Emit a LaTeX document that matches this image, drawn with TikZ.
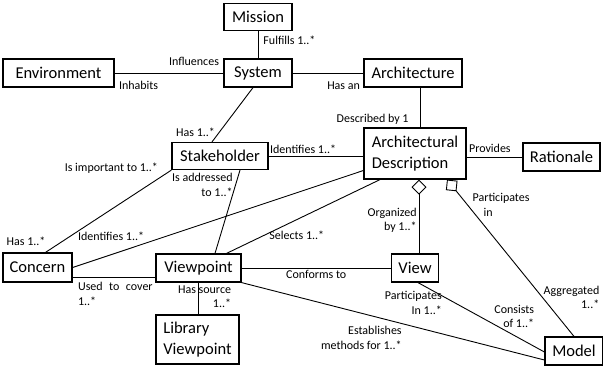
\documentclass[tikz,border=0pt]{standalone}
\usepackage{fontspec}
\setmainfont{Carlito}
\usetikzlibrary{positioning, arrows.meta}

\begin{document}
\begin{tikzpicture}[
  x=1pt, y=-1pt, line width=0.9pt,
  cls/.style={draw, line width=1.2pt, inner sep=2pt, align=left,
              font=\fontsize{16.5}{20.5}\selectfont},
  role/.style={draw=none, inner sep=1pt, font=\fontsize{12}{14.5}\selectfont},
  agg/.style={arrows={Diamond[open, length=15pt, width=15pt]}-}
]
  \useasboundingbox (0,0) rectangle (603,365);

  % --- nodes: \node (id) [style] at (pos) {label}; ---
  \node (mis)  [cls, minimum width=68pt,  minimum height=27pt] at (258,17)      {Mission};
  \node (env)  [cls, minimum width=111pt, minimum height=28pt] at (58.5,73)     {Environment};
  \node (sys)  [cls, minimum width=68pt,  minimum height=28pt] at (258,73)      {System};
  \node (arch) [cls, minimum width=98pt,  minimum height=28pt] at (413,73)      {Architecture};
  \node (stk)  [cls, minimum width=96pt,  minimum height=27pt] at (220,156)     {Stakeholder};
  \node (ad)   [cls, minimum width=102pt, minimum height=51pt] at (415,153.5)   {Architectural\\Description};
  \node (rat)  [cls, minimum width=77pt,  minimum height=28pt] at (561.5,157)   {Rationale};
  \node (con)  [cls, minimum width=69pt,  minimum height=29pt] at (37.5,267.5)  {Concern};
  \node (vp)   [cls, minimum width=85pt,  minimum height=28pt] at (198.5,268)   {Viewpoint};
  \node (view) [cls, minimum width=47pt,  minimum height=28pt] at (415,268)     {View};
  \node (lib)  [cls, minimum width=83pt,  minimum height=49pt] at (197.5,339.5) {Library\\Viewpoint};
  \node (mod)  [cls, minimum width=58pt,  minimum height=28pt] at (574,351)     {Model};

  % --- edges: \draw (from) -- node[...]{role} (to); ---
  \draw (mis) -- node (rFul) [role, pos=0.33, right=4pt] {Fulfills 1..*} (sys);
  \draw (env) -- node (rInh) [role, pos=0, below right=7pt and 3pt] {Inhabits}
                 node (rInf) [role, pos=1, above left=6pt and 3pt] {Influences} (sys);
  \draw (sys) -- node (rHan) [role, pos=1, below left=7pt and 2pt] {Has an} (arch);
  \draw ([xshift=7pt]arch.south) -- node (rDes) [role, pos=0.8, left=10pt] {Described by 1} ([xshift=5pt]ad.north);
  \draw ([xshift=-5pt]sys.south) -- node (rHsk) [role, pos=0.82, left=3pt] {Has 1..*} ([xshift=-8pt]stk.north);
  \draw (stk.east) -- node (rIds) [role, pos=0, above right=1pt and 0pt] {Identifies 1..*} (stk.east -| ad.west);
  \draw (rat.west -| ad.east) -- node (rPro) [role, pos=0, above right=3pt and 1pt] {Provides} (rat.west);

  \draw (stk.south west) -- node (rImp) [role, pos=0, left=12pt, yshift=2pt] {Is important to 1..*}
                            node (rHco) [role, pos=0.87, left=15pt] {Has 1..*} ([xshift=8pt]con.north);
  \draw ([xshift=20pt]stk.south) -- node (rAdd) [role, align=right, pos=0, below left=2pt and 6pt] {Is addressed\\to 1..*} ([xshift=16.5pt]vp.north);
  \draw ([yshift=-17pt]ad.west) -- node (rIdc) [role, pos=1, above right=25pt and 4pt] {Identifies 1..*} (con.east);
  \draw ([xshift=-35pt]ad.south) -- node (rSel) [role, pos=0.75, right=3pt] {Selects 1..*} ([xshift=28pt]vp.north);

  \draw[agg] ([xshift=4pt]ad.south) -- node (rOrg) [role, align=right, pos=0.55, left=1pt] {Organized\\by 1..*} ([xshift=4pt]view.north);
  \draw[agg] ([xshift=32pt]ad.south) -- node (rPar) [role, align=left, pos=0.08, below right=0pt and 14pt] {Participates\\\hspace*{11pt}in}
                                         node (rAgg) [role, align=right, pos=0.75, right=0pt] {Aggregated\\1..*} (mod.north);

  \draw ([yshift=-10pt]con.east) -- node (rUse) [role, align=left, pos=0, below right=3.5pt and 4pt] {Used\hspace{6.5pt}to\hspace{6.5pt}cover\\1..*} ([yshift=-9.5pt]vp.west);
  \draw (vp.east) -- node (rCfm) [role, pos=0.5, below=1pt] {Conforms to} (view.west);
  \draw (vp.south) -- node (rSrc) [role, align=right, pos=0.45, anchor=east, xshift=34pt] {Has source\\1..*} (vp.south |- lib.north);
  \draw (vp.south east) -- node (rEst) [role, align=right, pos=0.55, below left=0pt and 5pt] {Establishes\\methods for 1..*} ([yshift=-9pt]mod.west);
  \draw ([xshift=3pt]view.south) -- node (rPin) [role, align=right, pos=0.2, anchor=north east, yshift=6.5pt] {Participates\\In 1..*}
                                    node (rCns) [role, align=right, pos=0.93, anchor=south east, yshift=18pt] {Consists\\of 1..*} ([yshift=-1pt]mod.west);
\end{tikzpicture}
\end{document}
